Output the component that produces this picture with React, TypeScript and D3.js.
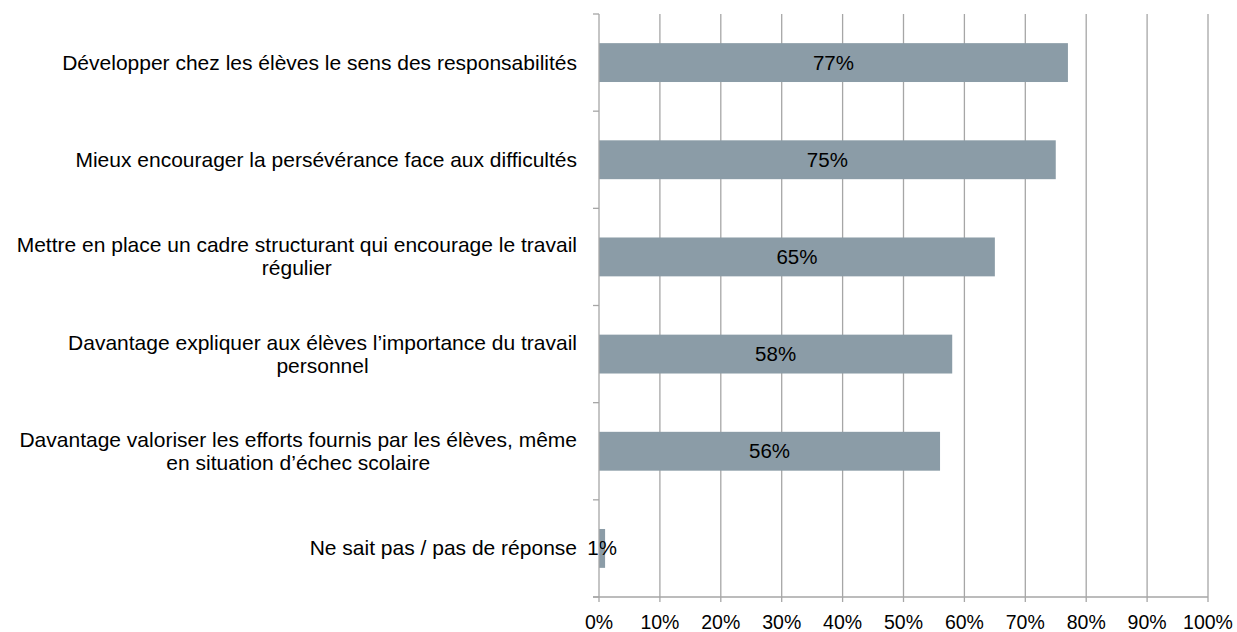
import React from "react";
import * as d3 from "d3";

const categories: string[][] = [
  ["Développer chez les élèves le sens des responsabilités"],
  ["Mieux encourager la persévérance face aux difficultés"],
  ["Mettre en place un cadre structurant qui encourage le travail", "régulier"],
  ["Davantage expliquer aux élèves l\u2019importance du travail", "personnel"],
  ["Davantage valoriser les efforts fournis par les élèves, même", "en situation d\u2019échec scolaire"],
  ["Ne sait pas / pas de réponse"],
];
const values: number[] = [77, 75, 65, 58, 56, 1];
const xTicks: number[] = [0, 10, 20, 30, 40, 50, 60, 70, 80, 90, 100];

const W = 1237;
const H = 632;
const left = 599;
const right = 1208;
const top = 14;
const bottom = 597;
const FONT = "'Liberation Sans', Arial, sans-serif";
const GRID = "#a6a6a6";
const BAR = "#8b9ca7";

export default function App() {
  const x = d3.scaleLinear().domain([0, 100]).range([left, right]);
  const idx = categories.map((_, i) => i);
  const y = d3
    .scaleBand<number>()
    .domain(idx)
    .range([top, bottom])
    .paddingInner(0.6)
    .paddingOuter(0.3);
  const step = y.step();
  const boundaries = d3.range(categories.length + 1).map((i) => top + i * step);

  return (
    <svg
      width={W}
      height={H}
      style={{ position: "absolute", left: 0, top: 0, background: "#fff" }}
      fontFamily={FONT}
    >
      {xTicks.slice(1).map((t) => (
        <line key={"g" + t} x1={x(t)} x2={x(t)} y1={top} y2={bottom} stroke={GRID} strokeWidth={1.3} />
      ))}
      {values.map((v, i) => (
        <rect key={"b" + i} x={x(0)} y={y(i)!} width={x(v) - x(0)} height={y.bandwidth()} fill={BAR} />
      ))}
      {values.map((v, i) => (
        <text
          key={"v" + i}
          x={(x(0) + x(v)) / 2}
          y={y(i)! + y.bandwidth() / 2 + 7}
          textAnchor="middle"
          fontSize={20.5}
          fill="#000"
        >
          {v}%
        </text>
      ))}
      <line x1={left} x2={left} y1={top} y2={bottom} stroke={GRID} strokeWidth={1.3} />
      {boundaries.map((b, i) => (
        <line key={"yt" + i} x1={left - 6} x2={left} y1={b} y2={b} stroke={GRID} strokeWidth={1.3} />
      ))}
      <line x1={left - 6} x2={right} y1={bottom} y2={bottom} stroke={GRID} strokeWidth={1.3} />
      {xTicks.map((t) => (
        <g key={"xt" + t}>
          <line x1={x(t)} x2={x(t)} y1={bottom} y2={bottom + 5} stroke={GRID} strokeWidth={1.3} />
          <text x={x(t)} y={629} textAnchor="middle" fontSize={19.5} fill="#000">
            {t}%
          </text>
        </g>
      ))}
      {categories.map((lines, i) => {
        const cy = y(i)! + y.bandwidth() / 2;
        const lh = 23;
        const start = cy - ((lines.length - 1) * lh) / 2 + 7;
        // center multi-line blocks relative to each other, right-aligned as a block
        const blockRight = 577;
        return (
          <text key={"c" + i} fontSize={21} fill="#000" textAnchor="middle">
            {lines.map((l, j) => (
              <tspan key={j} className="catline" data-row={i} x={blockRight} y={start + j * lh}>
                {l}
              </tspan>
            ))}
          </text>
        );
      })}
    </svg>
  );
}

// After mount, align lines: the widest line ends at 577, others centered on it.
if (typeof window !== "undefined") {
  const fix = () => {
    const svg = document.querySelector("svg");
    if (!svg) return false;
    const spans = Array.from(svg.querySelectorAll<SVGTSpanElement>("tspan.catline"));
    if (!spans.length) return false;
    const rows = d3.group(spans, (s) => s.getAttribute("data-row"));
    rows.forEach((list) => {
      const widths = list.map((s) => s.getComputedTextLength());
      const maxW = d3.max(widths) || 0;
      const cx = 577 - maxW / 2;
      list.forEach((s) => s.setAttribute("x", String(cx)));
    });
    return true;
  };
  const tryFix = () => {
    if (!fix()) requestAnimationFrame(tryFix);
  };
  requestAnimationFrame(tryFix);
}
